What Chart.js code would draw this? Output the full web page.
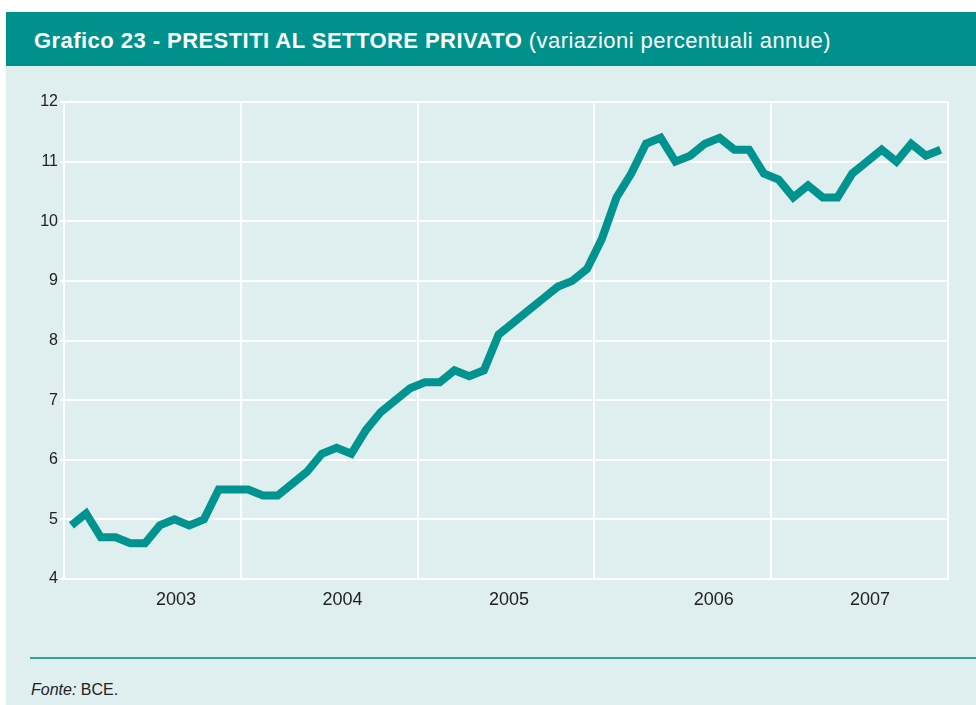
<!DOCTYPE html>
<html><head><meta charset="utf-8">
<script src="https://cdn.jsdelivr.net/npm/chart.js@4.4.1/dist/chart.umd.min.js"></script>
<style>
html,body{margin:0;padding:0;background:#fff;width:976px;height:705px;overflow:hidden;font-family:"Liberation Sans",Arial,sans-serif;}
#panel{position:absolute;left:6px;top:12px;width:970px;height:693px;background:#dfeeee;}
#header{position:absolute;left:0;top:0;width:970px;height:54px;background:#00918d;color:#fff;}
#title{position:absolute;left:28px;top:18px;font-size:22px;line-height:22px;white-space:nowrap;letter-spacing:0.45px;}
#title b{font-weight:bold}
#wrap{position:absolute;left:-6px;top:54px;width:976px;height:590px;}
#rule{position:absolute;left:24px;top:645px;width:946px;height:2px;background:#2fa3a2;}
#source{position:absolute;left:25px;top:669px;font-size:16px;color:#222;}
</style></head>
<body>
<div id="panel">
  <div id="header"><div id="title"><b>Grafico 23 - PRESTITI AL SETTORE PRIVATO</b> (variazioni percentuali annue)</div></div>
  <div id="wrap"><canvas id="c" width="976" height="590"></canvas></div>
  <div id="rule"></div>
  <div id="source"><i>Fonte:</i> BCE.</div>
</div>
<script>
// Monthly data, Jan 2003 - Dec 2007
const years = ['2003', '2004', '2005', '2006', '2007'];
const values = [
  4.9, 5.1, 4.7, 4.7, 4.6, 4.6, 4.9, 5.0, 4.9, 5.0, 5.5, 5.5,
  5.5, 5.4, 5.4, 5.6, 5.8, 6.1, 6.2, 6.1, 6.5, 6.8, 7.0, 7.2,
  7.3, 7.3, 7.5, 7.4, 7.5, 8.1, 8.3, 8.5, 8.7, 8.9, 9.0, 9.2,
  9.7, 10.4, 10.8, 11.3, 11.4, 11.0, 11.1, 11.3, 11.4, 11.2, 11.2, 10.8,
  10.7, 10.4, 10.6, 10.4, 10.4, 10.8, 11.0, 11.2, 11.0, 11.3, 11.1, 11.2
];
const yTicks = [4, 5, 6, 7, 8, 9, 10, 11, 12];

// axis layout (month units): year boundaries and year-label positions
const yearBounds = [0, 12, 24, 36, 48, 60];
const yearLabelAt = [7.6, 18.9, 30.2, 44.1, 54.7];

const points = values.map((v, i) => ({ x: i + 0.5, y: v }));

new Chart(document.getElementById('c'), {
  type: 'line',
  data: { datasets: [{
    data: points,
    borderColor: '#00938f',
    borderWidth: 8,
    borderJoinStyle: 'miter',
    borderCapStyle: 'butt',
    pointRadius: 0,
    tension: 0,
    fill: false
  }]},
  options: {
    responsive: false,
    devicePixelRatio: 1,
    animation: false,
    layout: { padding: { left: 0, right: 28, top: 36, bottom: 0 } },
    plugins: { legend: { display: false }, tooltip: { enabled: false } },
    scales: {
      x: {
        type: 'linear', min: 0, max: 60,
        afterBuildTicks: (s) => {
          s.ticks = yearBounds.concat(yearLabelAt).sort((a, b) => a - b).map(v => ({ value: v }));
        },
        afterFit: (s) => { s.height = 77; },
        grid: {
          color: (ctx) => (ctx.tick && yearBounds.includes(ctx.tick.value)) ? '#ffffff' : 'rgba(0,0,0,0)',
          lineWidth: 2,
          drawTicks: false
        },
        border: { display: true, color: '#ffffff', width: 2 },
        ticks: {
          autoSkip: false, maxRotation: 0, padding: 10,
          color: '#222', font: { family: 'Liberation Sans', size: 18 },
          callback: (v) => { const k = yearLabelAt.indexOf(v); return k >= 0 ? years[k] : ''; }
        }
      },
      y: {
        min: 4, max: 12,
        afterBuildTicks: (s) => { s.ticks = yTicks.map(v => ({ value: v })); },
        afterFit: (s) => { s.width = 64; },
        grid: { color: '#ffffff', lineWidth: 2, tickLength: 4, drawTicks: true },
        border: { display: true, color: '#ffffff', width: 2 },
        ticks: {
          padding: 2, color: '#222', font: { family: 'Liberation Sans', size: 16 },
          callback: (v) => String(v)
        }
      }
    }
  }
});
</script>
</body></html>
